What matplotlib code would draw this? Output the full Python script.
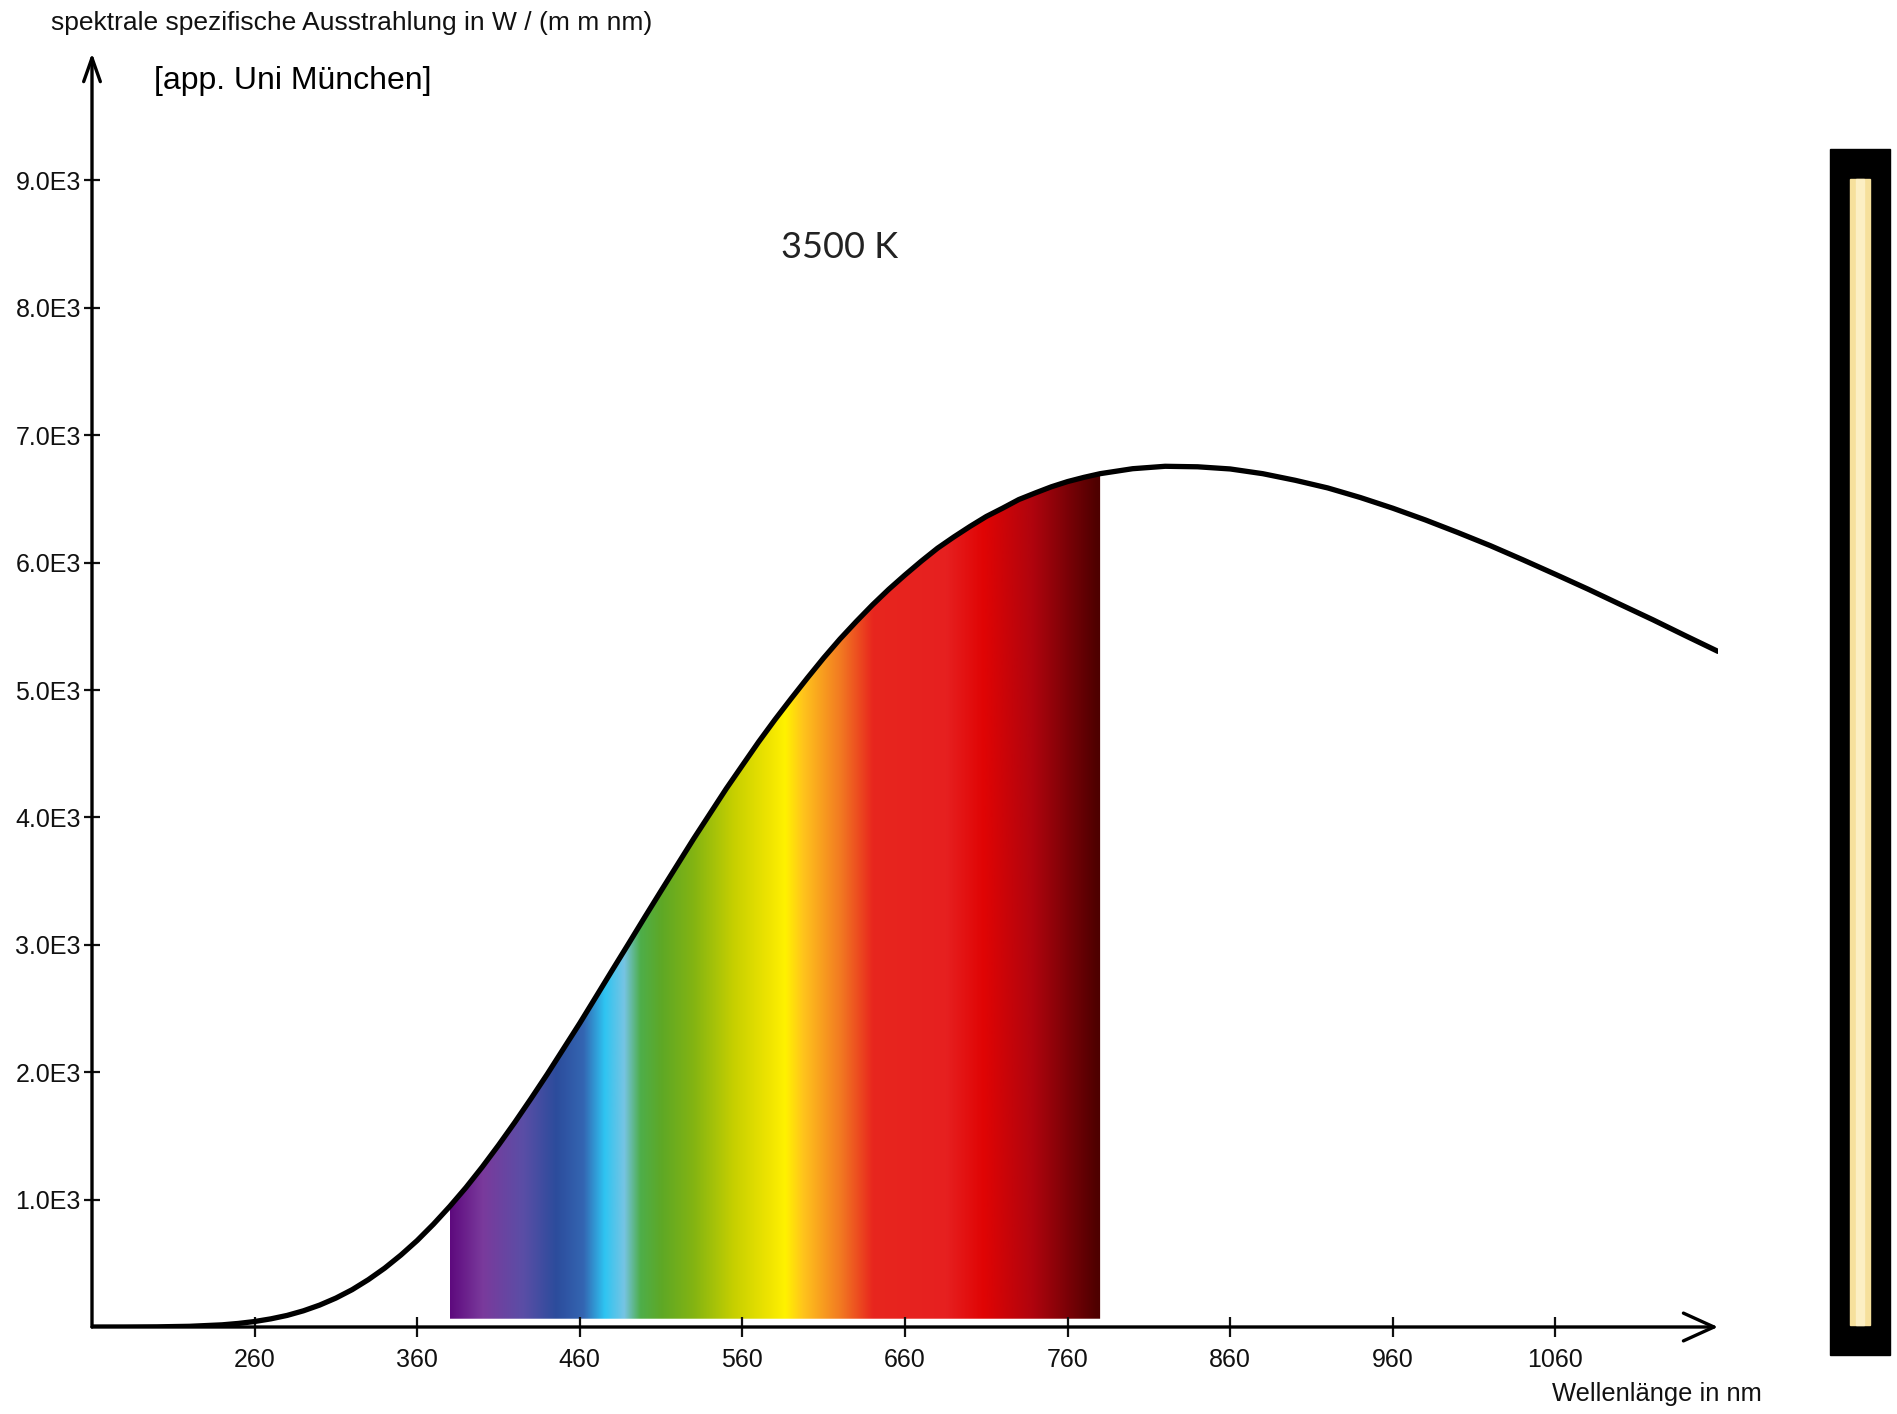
import numpy as np
import matplotlib.pyplot as plt
from matplotlib.colors import to_rgb
from matplotlib.patches import Rectangle

plt.rcParams['font.family'] = ['Liberation Sans', 'DejaVu Sans']

# curve (W / (m m nm)); 10 nm steps where it bends
wavelength = [160, 180, 200, 220, 240, 250, 260, 270, 280, 290,
              300, 310, 320, 330, 340, 350, 360, 370, 380, 390,
              400, 410, 420, 430, 440, 450, 460, 470, 480, 490,
              500, 510, 520, 530, 540, 550, 560, 570, 580, 590,
              600, 610, 620, 630, 640, 650, 660, 670, 680, 690,
              700, 710, 720, 730, 740, 750, 760, 770, 780, 800,
              820, 840, 860, 880, 900, 920, 940, 960, 980, 1000,
              1020, 1040, 1060, 1080, 1100, 1120, 1140, 1160]
exitance = [0, 0.2, 1.4, 5.5, 17, 28, 43, 64, 91, 127,
            172, 227, 293, 372, 462, 565, 679, 807, 946, 1095,
            1256, 1427, 1606, 1793, 1985, 2185, 2385, 2593, 2802, 3009,
            3218, 3424, 3628, 3832, 4028, 4224, 4409, 4593, 4767, 4933,
            5095, 5252, 5400, 5537, 5668, 5790, 5903, 6011, 6113, 6201,
            6284, 6362, 6427, 6495, 6546, 6595, 6636, 6669, 6698, 6737,
            6756, 6752, 6735, 6698, 6646, 6586, 6511, 6427, 6335, 6236,
            6133, 6022, 5908, 5792, 5671, 5551, 5426, 5303]

x_ticks = [260, 360, 460, 560, 660, 760, 860, 960, 1060]
y_ticks = [1000, 2000, 3000, 4000, 5000, 6000, 7000, 8000, 9000]
y_labels = ['1.0E3', '2.0E3', '3.0E3', '4.0E3', '5.0E3', '6.0E3', '7.0E3', '8.0E3', '9.0E3']

# visible range shown as rainbow
vis_lo, vis_hi = 380, 780
spec_nm = [380, 400, 425, 445, 462, 475, 487, 497, 510, 530,
           555, 578, 586, 597, 620, 640, 685, 708, 738, 778]
spec_col = ['#5e0a7e', '#7a3a9c', '#5a4ea6', '#2c4c9c', '#3466b2', '#2ec4f2', '#76c4e4', '#4eae4a', '#5ea826', '#84b412',
            '#c8d000', '#f2e600', '#fff200', '#ffc41c', '#f27a22', '#e8261e', '#e62020', '#e00404', '#b0040e', '#4e0000']

W, H = 1897, 1414
fig = plt.figure(figsize=(W / 100, H / 100), dpi=100)
ax = fig.add_axes([92 / W, 1 - 1327 / H, 1626 / W, 1274 / H])

wl = np.array(wavelength)
ex = np.array(exitance)
sel = (wl >= vis_lo) & (wl <= vis_hi)
fill = ax.fill_between(wl[sel], 65, ex[sel], facecolor='none', edgecolor='none')

grid = np.linspace(vis_lo, vis_hi, 800)
rgb = np.array([to_rgb(c) for c in spec_col])
img = np.stack([np.interp(grid, spec_nm, rgb[:, k]) for k in range(3)], axis=-1)[None, :, :]
im = ax.imshow(img, extent=[vis_lo, vis_hi, 65, 7000], aspect='auto', origin='lower', zorder=1)
im.set_clip_path(fill.get_paths()[0], transform=ax.transData)

ax.plot(wl, ex, color='black', lw=3.8, solid_capstyle='round', solid_joinstyle='round', zorder=3)

ax.set_xlim(160, 1160)
ax.set_ylim(0, 10000)
for s in ax.spines.values():
    s.set_visible(False)

ax.annotate('', xy=(1160, 0), xytext=(160, 0), annotation_clip=False,
            arrowprops=dict(arrowstyle='->,head_length=1.1,head_width=0.5', lw=2.4,
                            color='black', mutation_scale=20, shrinkA=0, shrinkB=0))
ax.annotate('', xy=(160, 10000), xytext=(160, 0), annotation_clip=False,
            arrowprops=dict(arrowstyle='->,head_length=0.85,head_width=0.3', lw=2.4,
                            color='black', mutation_scale=20, shrinkA=0, shrinkB=0))

ax.set_xticks(x_ticks)
ax.set_xticklabels([str(t) for t in x_ticks])
ax.set_yticks(y_ticks)
ax.set_yticklabels(y_labels)
ax.tick_params(axis='x', direction='inout', length=14, width=1.6, labelsize=18, pad=8, colors='#111111')
ax.tick_params(axis='y', direction='inout', length=12, width=1.6, labelsize=18, pad=2, colors='#111111')

fig.text(51 / W, 1 - 23 / H, 'spektrale spezifische Ausstrahlung in W / (m m nm)',
         fontsize=19, ha='left', va='center', color='#111111')
fig.text(154 / W, 1 - 81 / H, '[app. Uni München]', fontsize=23, ha='left', va='center')
fig.text(840 / W, 1 - 248 / H, '3500 K', fontsize=26, ha='center', va='center',
         family=['Lato', 'DejaVu Sans'], color='#222222')
fig.text(1552 / W, 1 - 1394 / H, 'Wellenlänge in nm', fontsize=18.4, ha='left', va='center', color='#111111')

# lamp bar on the right
fig.add_artist(Rectangle((1830 / W, 59 / H), 60 / W, 1206 / H, transform=fig.transFigure, color='black'))
fig.add_artist(Rectangle((1850 / W, 89 / H), 20 / W, 1146 / H, transform=fig.transFigure, color='#f6e09c'))
fig.add_artist(Rectangle((1856 / W, 89 / H), 8 / W, 1146 / H, transform=fig.transFigure, color='#fcefc4'))

fig.savefig('out.png', dpi=100)
